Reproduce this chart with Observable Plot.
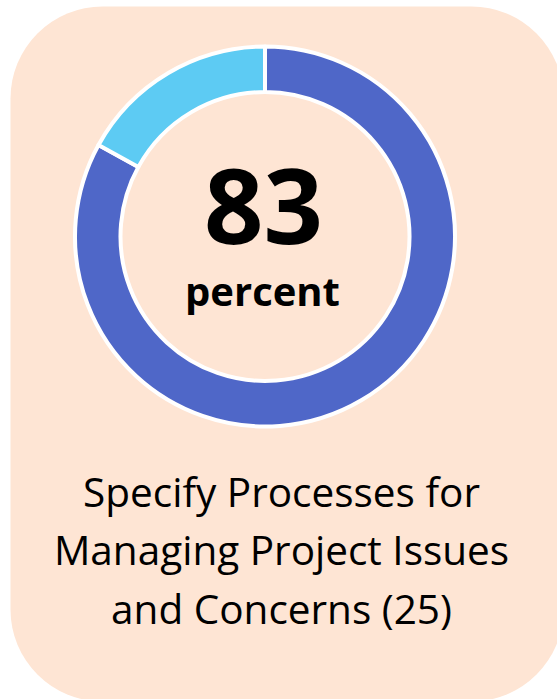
<!DOCTYPE html>
<html>
<head>
<meta charset="utf-8">
<script src="https://cdn.jsdelivr.net/npm/d3@7"></script>
<script src="https://cdn.jsdelivr.net/npm/@observablehq/plot@0.6"></script>
<style>
  html, body { margin: 0; padding: 0; background: #ffffff; }
  #chart svg { display: block; }
</style>
</head>
<body>
<div id="chart"></div>
<script>
// ---- data ----
const categories = ["Specified", "Not specified"];
const values = [83, 17];
const centerValue = ["83"];
const centerUnit = ["percent"];
const titleLines = ["Specify Processes for", "Managing Project Issues", "and Concerns (25)"];

// ---- style / layout ----
const palette = ["#4F67C8", "#5DCBF3"];
const peach = "#FEE5D4";
const W = 557, H = 699;
const cx = 265, cy = 236.5, rOuter = 190, rInner = 144.5;

const slices = categories.map((c, i) => ({category: c, value: values[i]}));
const color = Plot.scale({color: {type: "ordinal", domain: categories, range: palette}});

function donut(index, scales) {
  const pie = d3.pie().sort(null).value(d => d.value)(slices);
  const arc = d3.arc().innerRadius(rInner).outerRadius(rOuter);
  const g = d3.create("svg:g")
    .attr("transform", `translate(${scales.x(cx)},${scales.y(cy)})`);
  g.selectAll("path").data(pie).join("path")
    .attr("d", arc)
    .attr("fill", d => color.apply(d.data.category))
    .attr("stroke", "white")
    .attr("stroke-width", 4)
    .attr("stroke-linejoin", "round");
  return g.node();
}

const font = "'Open Sans', 'Noto Sans', sans-serif";

const chart = Plot.plot({
  width: W,
  height: H,
  margin: 0,
  style: {background: "white", fontFamily: font, overflow: "visible"},
  x: {domain: [0, W], range: [0, W], axis: null},
  y: {domain: [0, H], range: [0, H], axis: null},
  marks: [
    Plot.frame({fill: peach, stroke: null, rx: 92, insetLeft: 10, insetTop: 6, insetRight: -6, insetBottom: -2}),
    donut,
    Plot.text(centerValue, {x: 263, y: 210, text: d => d, fontSize: 104, fontWeight: "bold", fill: "black", textAnchor: "middle", lineAnchor: "middle"}),
    Plot.text(centerUnit, {x: 262, y: 293, text: d => d, fontSize: 40, fontWeight: "bold", fill: "black", textAnchor: "middle", lineAnchor: "middle"}),
    Plot.text([titleLines.join("\n")], {x: 281, y: 546, text: d => d, fontSize: 40.5, lineHeight: 1.445, fill: "black", textAnchor: "middle", lineAnchor: "middle"})
  ]
});
document.getElementById("chart").appendChild(chart);
</script>
</body>
</html>
